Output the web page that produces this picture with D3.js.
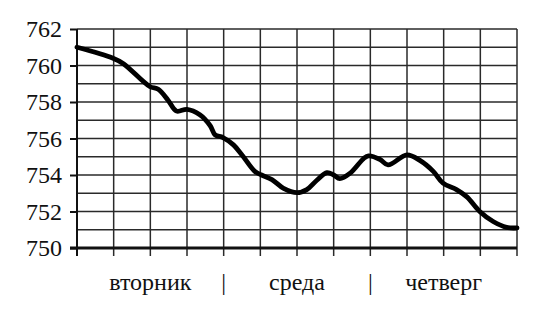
<!DOCTYPE html>
<html>
<head>
<meta charset="utf-8">
<script src="https://cdn.jsdelivr.net/npm/d3@7"></script>
<style>
  body { margin: 0; background: #fff; }
</style>
</head>
<body>
<div id="graph"></div>
<script>
//Data: hours from the start of Tuesday, pressure in mm Hg
const hours = [0, 5.9, 7.6, 11.9, 13.3, 14.9, 16.3, 18.0, 20.1, 21.8, 22.6, 23.9, 25.6, 27.0,
               29.1, 30.2, 31.9, 33.8, 36.0, 37.6, 39.2, 40.9, 42.0, 43.0, 44.7, 46.9, 47.7,
               49.6, 50.9, 54.0, 56.1, 58.3, 59.9, 62.1, 63.8, 65.9, 68.1, 70.3, 72];
const pressure = [761.0, 760.4, 760.1, 758.85, 758.7, 758.1, 757.5, 757.6, 757.3, 756.7, 756.2, 756.05, 755.65, 755.1,
                  754.2, 754.0, 753.75, 753.27, 753.03, 753.2, 753.7, 754.13, 754.0, 753.8, 754.1, 754.9, 755.05,
                  754.85, 754.55, 755.1, 754.8, 754.2, 753.55, 753.2, 752.8, 752.0, 751.45, 751.13, 751.1];
const days = ["вторник", "среда", "четверг"];
const yTicks = [750, 752, 754, 756, 758, 760, 762];

const serif = "'Liberation Serif', 'Times New Roman', 'DejaVu Serif', serif";

//Display specifications
const W = 557, H = 317;
const margin = {top: 29, right: 40, bottom: 69, left: 77};
const width = W - margin.left - margin.right;
const height = H - margin.top - margin.bottom;

const data = hours.map((h, i) => ({h: h, p: pressure[i]}));

const x = d3.scaleLinear().domain([0, 72]).range([0, width]);
const y = d3.scaleLinear().domain([750, 762]).range([height, 0]);

const svg = d3.select("#graph").append("svg")
    .attr("width", W)
    .attr("height", H);

const g = svg.append("g")
    .attr("transform", "translate(" + margin.left + "," + margin.top + ")");

//Horizontal grid (every 1 mm)
g.append("g")
   .selectAll("line")
   .data(d3.range(751, 763))
   .enter()
   .append("line")
   .attr("x1", 0)
   .attr("x2", width)
   .attr("y1", d => y(d))
   .attr("y2", d => y(d))
   .attr("stroke", "#2a2a2a")
   .attr("stroke-width", 1.5);

//Vertical grid (every 6 hours), with ticks below the axis
g.append("g")
   .selectAll("line")
   .data(d3.range(6, 73, 6))
   .enter()
   .append("line")
   .attr("x1", d => x(d))
   .attr("x2", d => x(d))
   .attr("y1", 0)
   .attr("y2", height + 8)
   .attr("stroke", "#2a2a2a")
   .attr("stroke-width", 1.5);

//Y axis
const yAxis = g.append("g")
   .call(d3.axisLeft(y).tickValues(yTicks).tickSize(7).tickPadding(8))
   .attr("font-family", serif)
   .attr("font-size", 24);
yAxis.select(".domain").remove();
yAxis.selectAll(".tick line").attr("stroke", "#111").attr("stroke-width", 2);
yAxis.selectAll("text").attr("fill", "#111");

//Axis lines
g.append("line")
   .attr("x1", 0).attr("x2", 0)
   .attr("y1", 0).attr("y2", height + 8)
   .attr("stroke", "#111")
   .attr("stroke-width", 2);
g.append("line")
   .attr("x1", -7).attr("x2", width)
   .attr("y1", height).attr("y2", height)
   .attr("stroke", "#111")
   .attr("stroke-width", 2.8);

//Day labels and separators
const labels = g.append("g")
   .attr("font-family", serif)
   .attr("font-size", 24)
   .attr("fill", "#111")
   .attr("text-anchor", "middle");

labels.selectAll(".day")
   .data(days)
   .enter()
   .append("text")
   .attr("class", "day")
   .attr("x", (d, i) => x(i * 24 + 12))
   .attr("y", height + 42)
   .text(d => d);

labels.selectAll(".sep")
   .data([24, 48])
   .enter()
   .append("text")
   .attr("class", "sep")
   .attr("x", d => x(d))
   .attr("y", height + 42)
   .text("|");

//Pressure curve
const line = d3.line()
   .x(d => x(d.h))
   .y(d => y(d.p))
   .curve(d3.curveCatmullRom.alpha(0.5));

g.append("path")
   .datum(data)
   .attr("fill", "none")
   .attr("stroke", "#000")
   .attr("stroke-width", 4.8)
   .attr("stroke-linejoin", "round")
   .attr("stroke-linecap", "round")
   .attr("d", line);
</script>
</body>
</html>
